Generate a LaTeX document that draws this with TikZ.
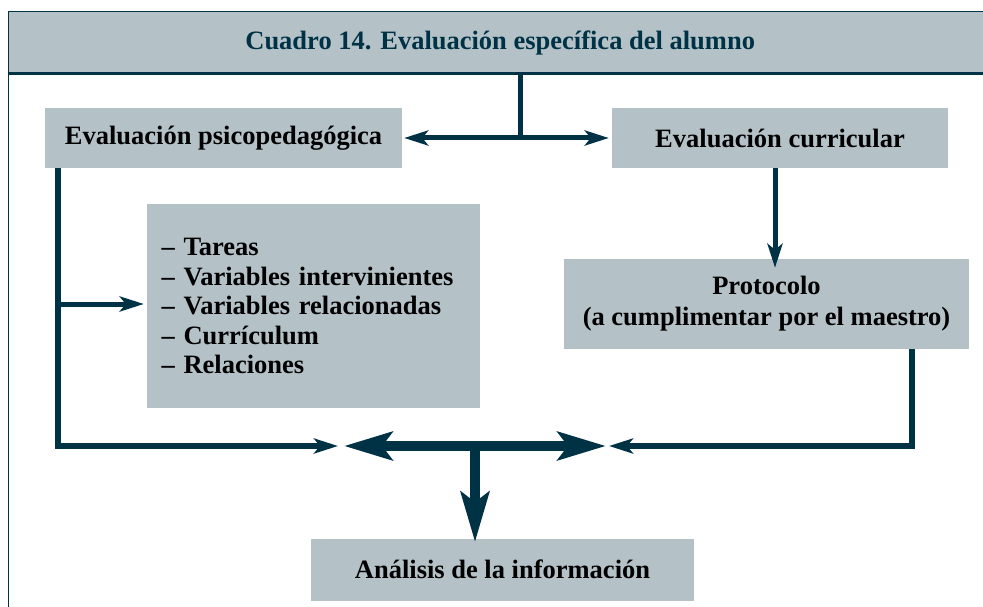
\documentclass[tikz,border=0pt]{standalone}
\usepackage{fontspec}
\setmainfont{Liberation Serif}
\usetikzlibrary{arrows.meta}
\definecolor{boxgray}{RGB}{180,193,199}
\definecolor{ink}{RGB}{0,50,70}
\begin{document}
\begin{tikzpicture}[x=1pt,y=-1pt,
  box/.style={fill=boxgray, inner sep=0pt, align=center,
    font=\fontsize{26.5}{31}\selectfont\bfseries},
  conn/.style={draw=ink, line width=5pt, line join=miter,
    -{Stealth[length=24pt,width=15pt,inset=6pt]}},
  biconn/.style={draw=ink, line width=5pt,
    {Stealth[length=24pt,width=15pt,inset=6pt]}-{Stealth[length=24pt,width=15pt,inset=6pt]}},
  bigconn/.style={draw=ink, line width=10pt,
    {Stealth[length=48pt,width=28pt,inset=10pt]}-{Stealth[length=48pt,width=28pt,inset=10pt]}},
  bigdown/.style={draw=ink, line width=10pt,
    -{Stealth[length=50pt,width=28pt,inset=10pt]}},
]
\useasboundingbox (0,0) rectangle (983,607);
\fill[white] (0,0) rectangle (983,607);
% header
\node[fill=boxgray, inner sep=0pt, minimum width=990pt, minimum height=61pt,
  anchor=north west, text=ink, font=\fontsize{26.5}{31}\selectfont\bfseries]
  (head) at (8,12) {\hspace*{-6pt}Cuadro 14. Evaluación específica del alumno};
\draw[ink, line width=1pt] (8,607) -- (8,12) -- (990,12);
\draw[ink, line width=2.2pt] (8,73.5) -- (990,73.5);
% boxes
\node[box, minimum width=357pt, minimum height=60pt] (psico) at (223.5,138) {Evaluación psicopedagógica};
\node[box, minimum width=336pt, minimum height=60pt] (curr) at (780,138) {Evaluación curricular};
\node[box, minimum width=333pt, minimum height=204pt, align=left,
  font=\fontsize{26.5}{29.5}\selectfont\bfseries, text width=318pt] (list) at (313.5,306)
  {\hspace*{7pt}– Tareas\\\hspace*{7pt}– Variables intervinientes\\\hspace*{7pt}– Variables relacionadas\\\hspace*{7pt}– Currículum\\\hspace*{7pt}– Relaciones};
\node[box, minimum width=405pt, minimum height=90pt] (proto) at (766.5,304)
  {Protocolo\\(a cumplimentar por el maestro)};
\node[box, minimum width=383pt, minimum height=62pt] (anal) at (502.5,569.5) {Análisis de la información};
% coordinates
\coordinate (top) at (520,138);
\coordinate (lc) at (58,446);
\coordinate (rc) at (912,446);
\coordinate (lend) at (338,446);
\coordinate (rend) at (609,446);
\coordinate (bl) at (344,446);
\coordinate (br) at (606,446);
\coordinate (mid) at (475,446);
% connectors
\draw[ink, line width=5pt] (head.south -| top) -- (top);
\draw[biconn] ([xshift=2pt]psico.east) -- ([xshift=-3pt]curr.west);
\draw[conn] (curr.south -| 775,0) -- ([yshift=-9pt]proto.north -| 775,0);
\draw[conn, line width=6pt] (psico.south -| lc) -- (lc) -- (lend);
\draw[conn] (58,304) -- ([xshift=-3pt]list.west |- 58,304);
\draw[conn, line width=6pt] (proto.south -| rc) -- (rc) -- (rend);
\draw[bigconn] (bl) -- (br);
\draw[bigdown] (mid) -- ([yshift=-4pt]anal.north -| mid);
\end{tikzpicture}
\end{document}
